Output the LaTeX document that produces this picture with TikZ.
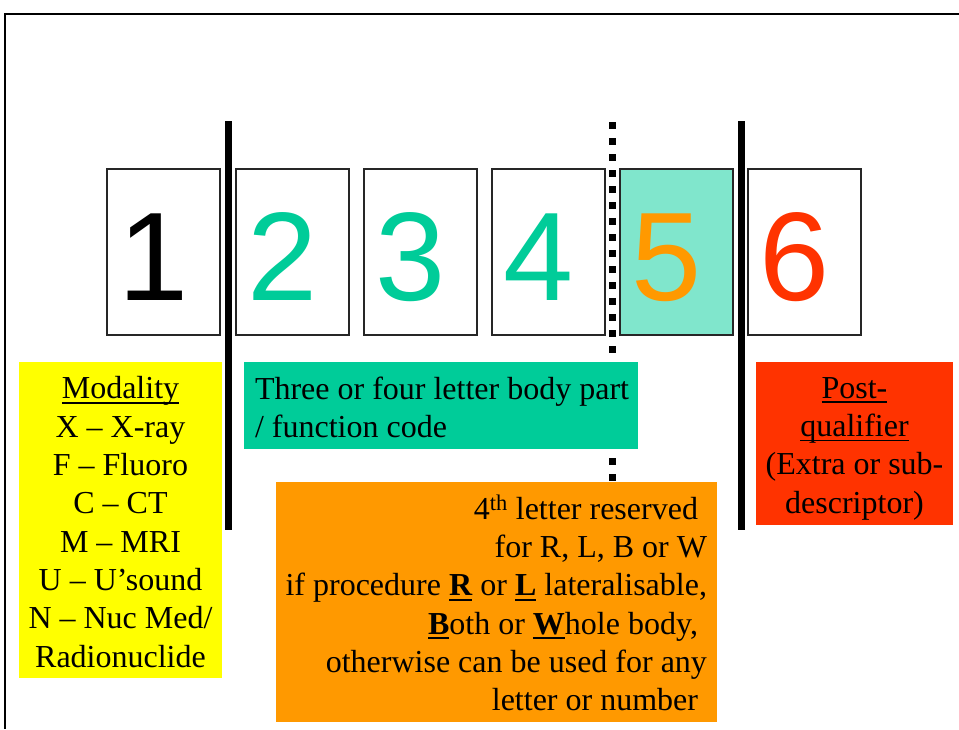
\documentclass[tikz,border=0pt]{standalone}
\usepackage{fontspec}
\setmainfont{Liberation Serif}
\newfontfamily\digitfont{Liberation Sans}

\definecolor{modyellow}{HTML}{FFFF00}
\definecolor{bodyteal}{HTML}{00CC99}
\definecolor{paleteal}{HTML}{80E6CC}
\definecolor{latorange}{HTML}{FF9900}
\definecolor{qualred}{HTML}{FF3300}

% underline kept just below the baseline
\newcommand{\undl}[1]{\leavevmode\setbox0\hbox{#1}\rlap{\rule[-5pt]{\wd0}{1.8pt}}\box0\relax}
\newcommand{\tsp}{\rule{9pt}{0pt}}
\newcommand{\dg}[1]{#1\kern20pt}

\tikzset{
  digitbox/.style={draw=black!85, line width=1.2pt, minimum width=113pt, minimum height=166pt,
    inner sep=0pt, text height=96pt, text depth=0pt, font=\digitfont\fontsize{126}{126}\selectfont},
  notebox/.style={inner sep=0pt, font=\fontsize{32}{38.3}\selectfont},
  sepline/.style={line width=7pt},
  dotsep/.style={line width=7pt, dash pattern=on 7pt off 9pt},
}

\begin{document}
\begin{tikzpicture}[x=1pt,y=-1pt]
    \useasboundingbox (0,0) rectangle (959,729);
    \draw[line width=2.2pt] (959,14) -- (5,14) -- (5,729);

    % separators
    \coordinate (sepA top) at (228,121);
    \coordinate (sepA bot) at (228,530);
    \coordinate (sepB top) at (612,122);
    \coordinate (sepB bot) at (612,483);
    \coordinate (sepC top) at (741,121);
    \coordinate (sepC bot) at (741,530);
    \draw[dotsep] (sepB top) -- (sepB bot);
    \draw[sepline] (sepA top) -- (sepA bot);
    \draw[sepline] (sepC top) -- (sepC bot);

    % the six characters
    \node[digitbox] (d1) at (163.5,252) {\dg{1}};
    \node[digitbox, text=bodyteal] (d2) at (292.5,252) {\dg{2}};
    \node[digitbox, text=bodyteal] (d3) at (420.5,252) {\dg{3}};
    \node[digitbox, text=bodyteal] (d4) at (548.5,252) {\dg{4}};
    \node[digitbox, fill=paleteal, text=latorange] (d5) at (676.5,252) {\dg{5}};
    \node[digitbox, text=qualred] (d6) at (804.5,252) {\dg{6}};

    % notes under the characters
    \node[fill=modyellow, minimum width=203pt, minimum height=316pt] (modality) at (120.5,520) {};
    \node[notebox, align=center] (modtext) at ([yshift=-2pt]modality.center)
      {\undl{Modality}\\X -- X-ray\\F -- Fluoro\\C -- CT\\M -- MRI\\U -- U’sound\\N -- Nuc Med/\\Radionuclide};

    \node[fill=bodyteal, minimum width=394pt, minimum height=87pt] (bodypart) at (441,405.5) {};
    \node[notebox, align=left, anchor=west] (bodytext) at ([xshift=11pt,yshift=-2pt]bodypart.west)
      {Three or four letter body part\\/ function code};

    \node[fill=latorange, minimum width=441pt, minimum height=240pt] (reserved) at (496.5,602) {};
    \node[notebox, align=right, anchor=east] (reservedtext) at ([xshift=-10pt,yshift=-1pt]reserved.east)
      {4\textsuperscript{th} letter reserved\tsp\\for R, L, B or W\\
       if procedure \undl{\textbf{R}} or \undl{\textbf{L}} lateralisable,\\
       \undl{\textbf{B}}oth or \undl{\textbf{W}}hole body,\tsp\\
       otherwise can be used for any\\letter or number\tsp};

    \node[fill=qualred, minimum width=197pt, minimum height=163pt] (qualifier) at (854.5,443.5) {};
    \node[notebox, align=center] (qualtext) at ([yshift=-5pt]qualifier.center)
      {\undl{Post-}\\\undl{qualifier}\\(Extra or sub-\\descriptor)};
\end{tikzpicture}
\end{document}
